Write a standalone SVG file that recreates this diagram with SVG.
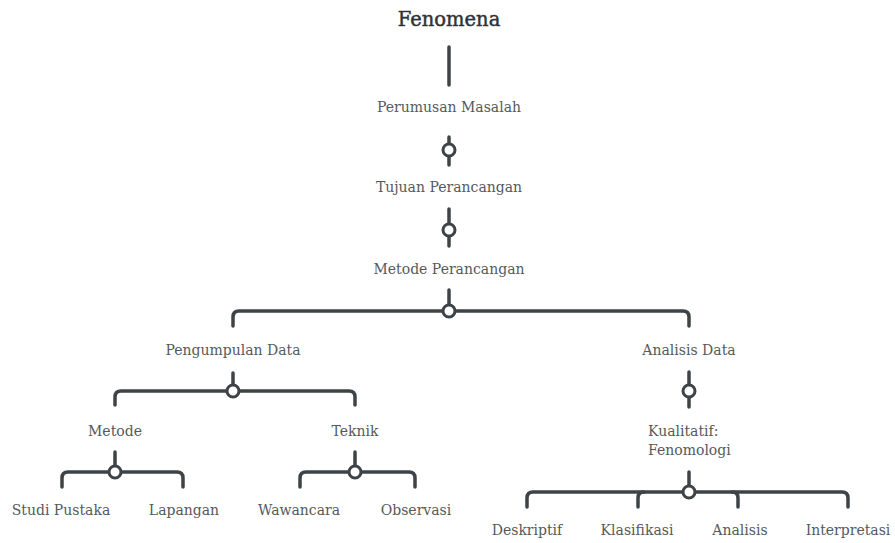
<svg xmlns="http://www.w3.org/2000/svg" width="895" height="543" viewBox="0 0 895 543">
<style>
text{font-family:"DejaVu Serif","Liberation Serif",serif;font-size:14px;fill:#55595c;text-anchor:middle}
.title{font-size:19.5px;fill:#2f3336;stroke:#2f3336;stroke-width:0.45}
.c path,.c line{fill:none;stroke:#3d4347;stroke-width:3.5;stroke-linecap:round;stroke-linejoin:round}
.c circle{fill:#fff;stroke:#3d4347;stroke-width:3}
</style>
<rect width="895" height="543" fill="#fff"/>
<g id="connectors" class="c">
<line x1="449" y1="47" x2="449" y2="85"/>
<line x1="449" y1="137" x2="449" y2="165"/>
<circle cx="449" cy="150" r="6"/>
<line x1="449" y1="209" x2="449" y2="246"/>
<circle cx="449" cy="230" r="6"/>
<line x1="449" y1="290" x2="449" y2="311"/>
<path d="M233 326 V317 Q233 311 239 311 H683 Q689 311 689 317 V326"/>
<circle cx="449" cy="311" r="6"/>
<line x1="233" y1="373" x2="233" y2="391"/>
<path d="M115 405 V397 Q115 391 121 391 H349 Q355 391 355 397 V405"/>
<circle cx="233" cy="391" r="6"/>
<line x1="115" y1="452" x2="115" y2="472"/>
<path d="M62 487 V478 Q62 472 68 472 H177 Q183 472 183 478 V487"/>
<circle cx="115" cy="472" r="6"/>
<line x1="355" y1="452" x2="355" y2="472"/>
<path d="M300 487 V478 Q300 472 306 472 H409 Q415 472 415 478 V487"/>
<circle cx="355" cy="472" r="6"/>
<line x1="689" y1="372" x2="689" y2="407"/>
<circle cx="689" cy="391" r="6"/>
<line x1="689" y1="472" x2="689" y2="492"/>
<path d="M527 507 V498 Q527 492 533 492 H842 Q848 492 848 498 V507"/>
<path d="M638 507 V498 Q638 492 644 492"/>
<path d="M738 507 V498 Q738 492 732 492"/>
<circle cx="689" cy="492" r="6"/>
</g>
<g id="n-fenomena"><text class="title" x="449" y="26">Fenomena</text></g>
<g id="n-perumusan"><text x="449" y="112">Perumusan Masalah</text></g>
<g id="n-tujuan"><text x="449" y="192">Tujuan Perancangan</text></g>
<g id="n-metode-perancangan"><text x="449" y="274">Metode Perancangan</text></g>
<g id="n-pengumpulan"><text x="233" y="355">Pengumpulan Data</text></g>
<g id="n-analisis-data"><text x="689" y="355">Analisis Data</text></g>
<g id="n-metode"><text x="115" y="436">Metode</text></g>
<g id="n-teknik"><text x="355" y="436">Teknik</text></g>
<g id="n-studi"><text x="61" y="515">Studi Pustaka</text></g>
<g id="n-lapangan"><text x="184" y="515">Lapangan</text></g>
<g id="n-wawancara"><text x="299" y="515">Wawancara</text></g>
<g id="n-observasi"><text x="416" y="515">Observasi</text></g>
<g id="n-kualitatif"><text x="648" y="436" style="text-anchor:start">Kualitatif:</text><text x="648" y="455" style="text-anchor:start">Fenomologi</text></g>
<g id="n-deskriptif"><text x="527" y="535">Deskriptif</text></g>
<g id="n-klasifikasi"><text x="637" y="535">Klasifikasi</text></g>
<g id="n-analisis"><text x="740" y="535">Analisis</text></g>
<g id="n-interpretasi"><text x="848" y="535">Interpretasi</text></g>
</svg>
